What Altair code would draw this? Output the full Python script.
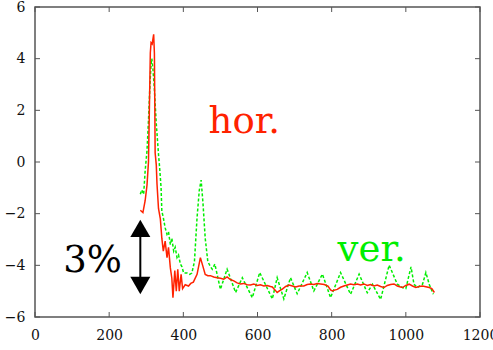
import altair as alt
import pandas as pd

# ---- data ----
hor_x = [284, 291, 297, 302, 306, 311, 313, 316, 320, 322, 324, 327, 329, 333, 338, 342, 346, 351,
         356, 360, 365, 369, 372, 377, 381, 385, 389, 394, 398, 405, 414, 420, 427, 437, 446, 453,
         459, 466, 473, 482, 491, 500, 509, 518, 527, 536, 545, 554, 563, 572, 581, 590, 599, 608,
         617, 626, 635, 640, 647, 653, 660, 667, 676, 685, 694, 703, 712, 725, 734, 743, 752, 761,
         770, 780, 790, 797, 802, 808, 815, 824, 833, 842, 851, 860, 869, 878, 887, 896, 905, 914,
         923, 932, 941, 950, 959, 968, 977, 986, 991, 1000, 1009, 1018, 1027, 1036, 1045, 1054,
         1063, 1070, 1077]
hor_y = [-1.87, -1.96, -1.5, -0.9, 0.0, 4.23, 4.62, 4.57, 4.94, 4.2, 0.35, -0.1, -0.85, -1.8, -2.2,
         -2.95, -3.45, -3.06, -3.7, -3.3, -4.1, -4.5, -5.25, -4.2, -5.0, -4.15, -5.0, -4.35, -4.9,
         -4.75, -4.8, -4.7, -4.65, -4.35, -3.7, -4.05, -4.35, -4.4, -4.4, -4.45, -4.48, -4.5, -4.54,
         -4.45, -4.55, -4.6, -4.68, -4.72, -4.7, -4.75, -4.76, -4.72, -4.78, -4.75, -4.8, -4.78,
         -4.82, -4.84, -4.95, -5.05, -4.98, -4.92, -4.82, -4.76, -4.8, -4.84, -4.8, -4.8, -4.74,
         -4.72, -4.74, -4.7, -4.72, -4.74, -4.8, -4.95, -4.99, -4.96, -4.93, -4.85, -4.8, -4.76,
         -4.72, -4.75, -4.72, -4.76, -4.72, -4.78, -4.74, -4.8, -4.76, -4.82, -4.86, -4.78, -4.74,
         -4.72, -4.8, -4.84, -4.86, -4.78, -4.73, -4.8, -4.86, -4.82, -4.8, -4.83, -4.86, -4.9, -5.05]

ver_x = [284, 288, 293, 297, 302, 306, 310, 313, 315, 318, 322, 327, 333, 336, 340, 342, 346, 351,
         356, 360, 365, 369, 374, 378, 383, 387, 392, 396, 401, 410, 417, 423, 430, 437, 443, 448,
         453, 459, 466, 473, 478, 485, 500, 518, 541, 559, 586, 606, 640, 653, 671, 689, 707, 734,
         752, 775, 797, 824, 851, 874, 896, 910, 932, 955, 977, 991, 1000, 1014, 1022, 1031, 1045,
         1054, 1063, 1074]
ver_y = [-1.25, -1.08, -1.25, -0.35, 0.43, 1.6, 3.0, 3.8, 4.0, 3.6, 2.8, 1.5, 0.3, -0.2, -1.0, -1.9,
         -2.15, -2.55, -2.8, -2.7, -3.2, -2.95, -3.45, -3.3, -3.7, -3.6, -3.95, -4.05, -4.3, -4.3,
         -4.35, -4.3, -3.85, -2.15, -1.1, -0.7, -1.6, -2.95, -3.85, -4.05, -4.15, -3.95, -4.93,
         -4.15, -5.05, -4.48, -5.25, -4.28, -5.3, -4.48, -5.3, -4.48, -5.1, -4.28, -4.99, -4.34,
         -5.25, -4.28, -5.12, -4.34, -5.06, -4.73, -5.32, -3.99, -4.73, -4.86, -4.9, -4.06, -4.73,
         -4.86, -4.73, -4.28, -4.73, -5.12]

x_ticks = [0, 200, 400, 600, 800, 1000, 1200]
y_ticks = [-6, -4, -2, 0, 2, 4, 6]

labels_text = ["hor.", "ver.", "3%"]
labels_x = [468, 816, 76]
labels_y = [1.12, -3.83, -4.26]
labels_color = ["#ff2200", "#00ee00", "#000000"]

arrow_x = [284]
arrow_top = [-2.57]
arrow_bottom = [-4.78]

# ---- build ----
SERIF = "DejaVu Serif"
W, H = 445, 310
xs = alt.Scale(domain=[0, 1200], nice=False, zero=False)
ys = alt.Scale(domain=[-6, 6], nice=False, zero=False)
xaxis = alt.Axis(values=x_ticks, title="", labelPadding=11, format="d", labelFlush=False)
yaxis = alt.Axis(values=y_ticks, title="", labelPadding=10, format="d", labelFlush=False)

df_h = pd.DataFrame({"x": hor_x, "y": hor_y})
df_v = pd.DataFrame({"x": ver_x, "y": ver_y})

hor = alt.Chart(df_h).mark_line(color="#ff2200", strokeWidth=1.5).encode(
    x=alt.X("x:Q", scale=xs, axis=xaxis),
    y=alt.Y("y:Q", scale=ys, axis=yaxis),
)
ver = alt.Chart(df_v).mark_line(color="#00ee00", strokeWidth=1.5, strokeDash=[3, 2]).encode(
    x=alt.X("x:Q", scale=xs, axis=xaxis),
    y=alt.Y("y:Q", scale=ys, axis=yaxis),
)

dfx = pd.DataFrame({"x": x_ticks})
dfy = pd.DataFrame({"y": y_ticks})
tick_col = "#555555"
tb = alt.Chart(dfx).mark_rule(color=tick_col, strokeWidth=1).encode(
    x=alt.X("x:Q", scale=xs, axis=xaxis), y=alt.value(H), y2=alt.value(H - 5))
tt = alt.Chart(dfx).mark_rule(color=tick_col, strokeWidth=1).encode(
    x=alt.X("x:Q", scale=xs, axis=xaxis), y=alt.value(0), y2=alt.value(5))
tl = alt.Chart(dfy).mark_rule(color=tick_col, strokeWidth=1).encode(
    y=alt.Y("y:Q", scale=ys, axis=yaxis), x=alt.value(0), x2=alt.value(5))
tr = alt.Chart(dfy).mark_rule(color=tick_col, strokeWidth=1).encode(
    y=alt.Y("y:Q", scale=ys, axis=yaxis), x=alt.value(W), x2=alt.value(W - 5))

df_lab = pd.DataFrame({"t": labels_text, "x": labels_x, "y": labels_y, "c": labels_color})
texts = alt.Chart(df_lab).mark_text(
    font=SERIF, fontSize=37, align="left", baseline="alphabetic"
).encode(
    x=alt.X("x:Q", scale=xs, axis=xaxis),
    y=alt.Y("y:Q", scale=ys, axis=yaxis),
    text="t:N",
    color=alt.Color("c:N", scale=None),
)

df_arr = pd.DataFrame({"x": arrow_x, "y1": arrow_top, "y2": arrow_bottom})
shaft = alt.Chart(df_arr).mark_rule(color="black", strokeWidth=2).encode(
    x=alt.X("x:Q", scale=xs, axis=xaxis),
    y=alt.Y("y1:Q", scale=ys, axis=yaxis),
    y2="y2:Q",
)
head_up = alt.Chart(df_arr).mark_point(shape="triangle-up", filled=True, color="black",
                                        size=400, opacity=1).encode(
    x=alt.X("x:Q", scale=xs, axis=xaxis),
    y=alt.Y("y1:Q", scale=ys, axis=yaxis),
)
head_dn = alt.Chart(df_arr).mark_point(shape="triangle-down", filled=True, color="black",
                                        size=400, opacity=1).encode(
    x=alt.X("x:Q", scale=xs, axis=xaxis),
    y=alt.Y("y2:Q", scale=ys, axis=yaxis),
)

chart = alt.layer(tb, tt, tl, tr, ver, hor, shaft, head_up, head_dn, texts).properties(
    width=W, height=H,
    padding={"left": 35, "top": 7, "right": 13, "bottom": 33},
    autosize=alt.AutoSizeParams(type="none"),
    background="white",
).configure_view(
    stroke="#555555", strokeWidth=1.5
).configure_axis(
    grid=False, domain=False, ticks=False,
    labelFont=SERIF, labelFontSize=14, labelColor="#111111",
)

chart.save("out.html", embed_options={"renderer": "svg", "actions": False})
